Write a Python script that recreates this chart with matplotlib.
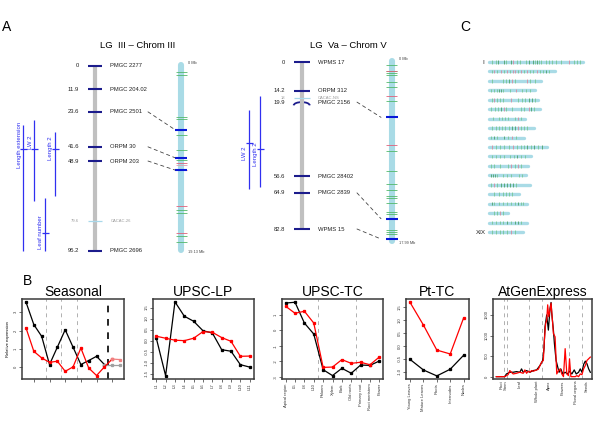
import matplotlib
matplotlib.use("Agg")
import matplotlib.pyplot as plt
from matplotlib.patches import ConnectionPatch, Arc

plt.rcParams["font.family"] = ["Liberation Sans", "DejaVu Sans"]
NARROW = ["Liberation Sans Narrow", "Liberation Sans", "DejaVu Sans"]

W, H = 600, 423

# ---------------- panel A: linkage groups ----------------
lg3_names = ["PMGC 2277", "PMGC 204.02", "PMGC 2501", "ORPM 30", "ORPM 203", "CACAC-26", "PMGC 2696"]
lg3_cm = [0, 11.9, 23.6, 41.6, 48.9, 79.6, 95.2]
lg3_cm_txt = ["0", "11.9", "23.6", "41.6", "48.9", "79.6", "95.2"]
lg3_faint = [False, False, False, False, False, True, False]

lg5_names = ["WPMS 17", "ORPM 312", "CACAC-NS", "PMGC 2156", "PMGC 28402", "PMGC 2839", "WPMS 15"]
lg5_cm = [0, 14.2, 18, 19.9, 56.6, 64.9, 82.8]
lg5_cm_txt = ["0", "14.2", "18", "19.9", "56.6", "64.9", "82.8"]
lg5_faint = [False, False, True, False, False, False, False]

# physical chromosomes (Mb)
chr3_len = 19.13
chr3_green = [0.75, 1.03, 5.35, 5.58, 7.27, 8.79, 9.86, 14.99, 15.27, 17.65, 18.33]
chr3_red = [10.13, 10.86, 14.58, 17.37]
chr3_pink = [10.34]
chr3_blue = [6.69, 9.59, 10.86]

chr5_len = 17.99
chr5_green = [0.40, 0.97, 1.23, 1.43, 2.07, 2.63, 3.97, 8.96, 10.96, 12.32, 12.89,
              13.46, 13.66, 14.16, 15.12, 15.29, 16.92, 17.12, 17.29]
chr5_red = [1.03, 3.53, 8.40]
chr5_blue = [5.63, 15.76, 17.79]

# genetic marker -> physical position
link3_cm = [23.6, 41.6, 48.9]
link3_mb = [6.69, 9.59, 10.86]
link5_cm = [19.9, 64.9, 82.8]
link5_mb = [5.63, 15.76, 17.79]

# QTL intervals (cM)
qtl3_names = ["Length extension", "LW 2", "Length 2", "Leaf number"]
qtl3_lo = [30.4, 27.8, 34.0, 67.9]
qtl3_hi = [95.2, 69.5, 66.9, 95.2]
qtl3_peak = [42.7, 42.7, 42.7, 85.9]
qtl5_names = ["LW 2", "Length 2"]
qtl5_lo = [23.8, 16.9]
qtl5_hi = [63.0, 62.0]
qtl5_peak = [40.2, 43.1]

# ---------------- panel B: expression profiles ----------------
s_black = [3.56, 2.33, 1.69, 0.15, 1.10, 2.05, 1.10, 0.15, 0.37, 0.60, 0.15, 0.15, 0.15]
s_red = [2.15, 0.87, 0.51, 0.27, 0.33, -0.22, 0.02, 1.05, -0.04, -0.45, 0.02, 0.45, 0.42]

lp_labels = ["L1", "L2", "L3", "L4", "L5", "L6", "L7", "L8", "L9", "L10", "L11"]
lp_black = [0.12, -1.59, 1.76, 1.11, 0.88, 0.45, 0.35, -0.41, -0.48, -1.09, -1.20]
lp_red = [0.20, 0.11, 0.02, 0.00, 0.11, 0.41, 0.38, 0.14, -0.03, -0.71, -0.70]

tc_labels = ["Apical region", "L5", "L8", "L10", "Phloem", "Xylem", "Bark", "Old roots",
             "Primary root", "Root meristem", "Flower"]
tc_black = [1.76, 1.81, 0.47, -0.24, -2.54, -2.92, -2.45, -2.77, -2.24, -2.26, -1.98]
tc_red = [1.55, 1.10, 1.23, 0.47, -2.39, -2.37, -1.89, -2.13, -2.06, -2.22, -1.72]

pt_labels = ["Young Leaves", "Mature Leaves", "Roots", "Internodes", "Nodes"]
pt_black = [-0.52, -0.93, -1.16, -0.90, -0.36]
pt_red = [1.69, 0.81, -0.16, -0.31, 1.09]

at_x_red = [0, 5, 6, 7, 8, 9, 10, 12, 14, 16, 17, 18, 19, 20, 21, 22, 24, 25, 26, 27, 28,
            28.6, 29.4, 30, 30.6, 31.2, 32, 32.6, 33.4, 34, 35, 36, 37, 38, 39, 40, 41, 42, 43,
            43.6, 44.4, 45.6, 47, 48, 49, 50, 51, 52, 53, 54, 55, 56]
at_red = [0, 0, 25, 49, 148, 107, 66, 82, 107, 82, 164, 82, 131, 107, 148, 131, 164, 180, 271,
          353, 394, 886, 1296, 1378, 1747, 1460, 1624, 1788, 1378, 1050, 968, 66, 148, 189, 66,
          0, 681, 66, 25, 435, 0, 0, 0, 25, 0, 66, 49, 189, 271, 394, 435, 476]
at_x_black = [0, 5, 6, 8, 10, 12, 14, 15, 16, 18, 20, 22, 24, 26, 27.6, 28.4, 29, 30, 31, 32,
              32.6, 33, 34, 34.6, 35.6, 36.6, 37.4, 38.4, 39.6, 41, 42.4, 43.6, 45, 46.4, 47.6,
              49, 50, 51, 52, 53, 54, 55, 56]
at_black = [0, 0, 66, 107, 107, 123, 107, 189, 107, 148, 107, 148, 164, 271, 394, 681, 1214,
            1501, 1132, 1665, 1804, 1542, 1132, 804, 394, 230, 107, 189, 66, 107, 66, 131, 66,
            164, 66, 107, 189, 107, 296, 378, 312, 189, 107]
at_sep = [4.6, 6.4, 19.4, 27, 43.4, 51]
at_labels = ["Root", "Stem", "Leaf", "Whole plant", "Apex", "Flowers", "Floral organs", "Seeds"]
at_label_x = [3, 5.4, 14, 24, 31.6, 39.6, 47.6, 54]

# ---------------- panel C: genome overview ----------------
c_len = [34.3, 24.1, 19.1, 16.8, 18.0, 18.6, 13.1, 16.4, 12.8, 21.2, 15.3, 14.2, 13.5, 15.0,
         11.0, 13.9, 6.9, 13.9, 12.4]
c_bands = [
    "1.2g 2.7g 3.4G 5.6G 6.3g 8.2G 8.9r 10.2g 11.4g 13.4g 14.6G 16.1G 16.7g 17.5G 18.3g "
    "19.1g 20.9g 21.9g 23.1g 24.6g 26.4g 29.2r 30.9g 32.1g 33.1g",
    "1.0g 2.0r 3.0g 4.2r 5.5g 6.5r 7.5g 8.6r 9.5r 10.5g 11.5r 12.6g 13.8r 15.0g 16.2g 17.4r "
    "18.5g 19.6g 20.8G 22.0g",
    "1.0g 5.2g 6.3g 7.2G 8.5r 9.5g 13.8r 15.0g 16.8g",
    "0.8g 1.8g 2.8g 3.6G 4.4G 5.2g 7.8g 10.0r 12.2g 13.5g 15.0g",
    "1.0g 2.0r 3.0g 4.0g 5.2g 8.0r 10.5g 12.0g 13.3g 14.5G 15.8G 16.7g",
    "0.8g 2.2g 3.2g 4.4G 5.4r 6.2g 8.5g 11.5g 12.6g 14.5r 15.5G 16.6g",
    "1.5g 3.5g 4.7g 5.8g 7.0g 9.5g 10.5r 11.5g",
    "1.0g 2.5g 3.7g 4.8g 6.0g 7.2g 8.4G 9.5G 10.5r 11.5g 12.8g 14.0g",
    "0.8g 1.8G 3.0g 5.5G 7.0g 8.5r 9.8g",
    "1.0r 2.5g 4.0g 5.5g 7.2g 8.8r 10.2g 11.5g 12.8g 14.0G 15.2g 16.5G 18.0g 19.5G",
    "1.0g 2.5g 4.0g 5.5g 7.5g 9.0g 10.2G 11.5g 13.0g",
    "0.8g 1.8g 4.0g 7.0g 8.2r 9.5g 10.5r 11.5g",
    "0.6G 1.4G 2.2G 3.0g 5.2g 6.5g 8.0g 11.0g 12.0g",
    "0.8g 2.0r 3.0g 4.2G 5.3G 6.4G 7.5G 8.6G 9.8g",
    "2.0g 3.5g 5.0g 6.2g 7.4g 8.5g",
    "1.0G 2.0g 3.5g 5.0g 6.5g 8.0g 9.5g 10.5G 11.5g 12.5g",
    "2.0g 3.0g 4.0r 5.0g",
    "1.0g 2.5g 4.0g 5.0g 6.5G 8.0g 9.5G 10.5G 11.5g",
    "1.0g 2.5g 4.0g 5.2g 6.5g 8.0r 9.5g",
]

CHR_BLUE = "#a9dbe6"
GREEN = "#52b86a"
DKGREEN = "#2f8a45"
RED = "#e0607a"
MARK = "#1c1c8c"
QTL = "#3030f0"
BAND_COL = {"g": "#6cc283", "G": "#3a9550", "r": "#e07a90"}

fig = plt.figure(figsize=(W / 100, H / 100), dpi=100)


def px_axes(xmap, ymap):
    # full-figure axes whose data values land on the given pixel positions
    (xv0, xp0), (xv1, xp1) = xmap
    (yv0, yp0), (yv1, yp1) = ymap
    sx = (xp1 - xp0) / (xv1 - xv0)
    sy = (yp1 - yp0) / (yv1 - yv0)
    ax = fig.add_axes([0, 0, 1, 1])
    ax.set_xlim(xv0 - xp0 / sx, xv0 + (W - xp0) / sx)
    ax.set_ylim(yv0 + (H - yp0) / sy, yv0 - yp0 / sy)
    ax.axis("off")
    ax.patch.set_alpha(0)
    return ax


PX = ((0, 0), (600, 600))


def draw_lg(ax, cms, cm_txt, names, faint, bar_x, tick_w, num_x, name_x):
    ax.vlines(bar_x, min(cms), max(cms), color="#c0c0c0", lw=3.0)
    for cm, t, n, f in zip(cms, cm_txt, names, faint):
        if n == "PMGC 2156":
            ax.add_patch(Arc((bar_x, cm + 1.6), 2 * tick_w, 3.2, theta1=180, theta2=360,
                             color=MARK, lw=1.3))
        else:
            ax.hlines(cm, bar_x - tick_w, bar_x + tick_w, color="#a8d8ea" if f else MARK,
                      lw=0.9 if f else 1.5)
        col = "#9a9a9a" if f else "#222222"
        fs = 3.0 if f else 4.2
        ax.text(num_x, cm, t, ha="right", va="center", fontsize=fs, color=col, family=NARROW)
        ax.text(name_x, cm, n, ha="left", va="center", fontsize=fs, color=col, family=NARROW)


def draw_phys(ax, x, length, green, red, blue, pink, top_txt, bot_txt):
    ax.plot([x, x], [0, length], color=CHR_BLUE, lw=4.4, solid_capstyle="round")
    ax.hlines(green, x - 5.5, x + 5.5, color=GREEN, lw=0.6)
    ax.hlines(pink, x - 5.5, x + 5.5, color="#d8a0b4", lw=0.6)
    ax.hlines(red, x - 5.5, x + 5.5, color=RED, lw=0.6)
    ax.hlines(blue, x - 6, x + 6, color="#0818d8", lw=1.5)
    ax.text(x + 7, 0, top_txt, ha="left", va="bottom", fontsize=2.8, color="#444444")
    ax.text(x + 7, length, bot_txt, ha="left", va="top", fontsize=2.8, color="#444444")


def draw_qtl(ax, names, lo, hi, peak, xs, lab_x, lab_y):
    for n, a, b, p, x, lx, ly in zip(names, lo, hi, peak, xs, lab_x, lab_y):
        ax.vlines(x, a, b, color=QTL, lw=0.9)
        ax.hlines(p, x - 3.5, x + 3.5, color=QTL, lw=0.9)
        ax.text(lx, ly, n, rotation=90, ha="center", va="center", fontsize=4.3, color=QTL,
                family=NARROW)


def link(ax_a, ax_b, x_a, x_b, cms, mbs):
    for cm, mb in zip(cms, mbs):
        cp = ConnectionPatch(xyA=(x_a, cm), coordsA="data", axesA=ax_a,
                             xyB=(x_b, mb), coordsB="data", axesB=ax_b,
                             color="#444444", lw=0.6, linestyle=(0, (4, 4)))
        fig.add_artist(cp)


# LG III
ax_lg3 = px_axes(PX, ((0, 66), (95.2, 251)))
draw_lg(ax_lg3, lg3_cm, lg3_cm_txt, lg3_names, lg3_faint, 94.7, 7, 79, 110.5)
draw_qtl(ax_lg3, qtl3_names, qtl3_lo, qtl3_hi, qtl3_peak, [23, 34, 55, 45],
         [19, 30, 50.5, 40.5], [40.7, 39.1, 42.2, 85.4])
ax_c3 = px_axes(PX, ((0, 65), (chr3_len, 250)))
draw_phys(ax_c3, 181, chr3_len, chr3_green, chr3_red, chr3_blue, chr3_pink, "0 Mb", "19.13 Mb")
link(ax_lg3, ax_c3, 148, 175, link3_cm, link3_mb)

# LG Va
ax_lg5 = px_axes(PX, ((0, 62), (82.8, 229)))
draw_lg(ax_lg5, lg5_cm, lg5_cm_txt, lg5_names, lg5_faint, 301.7, 8, 285, 318)
draw_qtl(ax_lg5, qtl5_names, qtl5_lo, qtl5_hi, qtl5_peak, [249, 260], [245, 255.5],
         [45.1, 45.6])
ax_c5 = px_axes(PX, ((0, 61), (chr5_len, 241)))
draw_phys(ax_c5, 391.7, chr5_len, chr5_green, chr5_red, chr5_blue, [], "0 Mb", "17.99 Mb")
link(ax_lg5, ax_c5, 357, 381, link5_cm, link5_mb)

# panel C
ax_c = px_axes(((0, 489), (10, 516.4)), ((1, 62), (19, 232)))
for i, (ln, bands) in enumerate(zip(c_len, c_bands), start=1):
    ax_c.plot([0, ln], [i, i], color=CHR_BLUE, lw=2.4, solid_capstyle="round")
    for b in bands.split():
        ax_c.vlines(float(b[:-1]), i - 0.19, i + 0.19, color=BAND_COL[b[-1]], lw=0.5)
ax_c.text(-2.0, 1, "I", ha="center", va="center", fontsize=4.5, color="#222222")
ax_c.text(-1.2, 19, "XIX", ha="right", va="center", fontsize=4.5, color="#222222")

# labels / titles (figure pixel positions)
ax_txt = px_axes(PX, ((0, 0), (423, 423)))
ax_txt.text(7, 27, "A", fontsize=10, ha="center", va="center")
ax_txt.text(465, 27, "C", fontsize=10, ha="center", va="center")
ax_txt.text(27, 281, "B", fontsize=10, ha="center", va="center")
ax_txt.text(138, 46, "LG  III \u2013 Chrom III", fontsize=6.8, ha="center", va="center")
ax_txt.text(348, 46, "LG  Va \u2013 Chrom V", fontsize=6.8, ha="center", va="center")


# ---------------- panel B ----------------
def b_axes(l, t, r, b, title):
    ax = fig.add_axes([l / W, 1 - b / H, (r - l) / W, (b - t) / H])
    for s in ax.spines.values():
        s.set_linewidth(1.1)
        s.set_color("#3a3a3a")
    ax.tick_params(direction="out", length=2, width=0.5, labelsize=3, pad=1, colors="#333333")
    ax.set_title(title, fontsize=10, pad=2)
    return ax


def profile(ax, x, y, col):
    ax.plot(x, y, color=col, lw=0.9, marker="s", ms=1.4, mec=col, mfc=col)


def vdash(ax, xs, col="#b0b0b0", lw=0.7):
    for v in xs:
        ax.axvline(v, color=col, lw=lw, linestyle=(0, (4, 4)))


# Seasonal
ax = b_axes(22, 299, 124, 379, "Seasonal")
sx = list(range(len(s_black)))
vdash(ax, [2.5, 4.5, 6.5])
vdash(ax, [10.5], col="black", lw=1.2)
profile(ax, sx[:11], s_black[:11], "black")
profile(ax, sx[10:], s_black[10:], "#a0a0a0")
profile(ax, sx[:12], s_red[:12], "red")
profile(ax, sx[11:], s_red[11:], "#f08080")
ax.set_xlim(-0.51, 12.5)
ax.set_ylim(-0.64, 3.73)
ax.set_xticks([1, 3, 5, 7, 9, 11], [])
ax.set_yticks([0, 1, 2, 3], ["0", "1", "2", "3"], rotation=90, va="center")
ax.set_ylabel("Relative expression", fontsize=3, labelpad=3)

# UPSC-LP
ax = b_axes(153, 299, 254, 379, "UPSC-LP")
lx = list(range(len(lp_labels)))
profile(ax, lx, lp_black, "black")
profile(ax, lx, lp_red, "red")
ax.set_xlim(-0.35, 10.46)
ax.set_ylim(-1.74, 1.89)
ax.set_xticks(lx, lp_labels, rotation=90)
yt = [-1.5, -1.0, -0.5, 0.0, 0.5, 1.0, 1.5]
ax.set_yticks(yt, [f"{v:.1f}" for v in yt], rotation=90, va="center")

# UPSC-TC
ax = b_axes(282, 299, 383, 379, "UPSC-TC")
tx = list(range(len(tc_labels)))
vdash(ax, [3.5, 7.5])
profile(ax, tx, tc_black, "black")
profile(ax, tx, tc_red, "red")
ax.set_xlim(-0.39, 10.39)
ax.set_ylim(-3.14, 2.02)
ax.set_xticks(tx, tc_labels, rotation=90)
yt = [-3, -2, -1, 0, 1]
ax.set_yticks(yt, [str(v) for v in yt], rotation=90, va="center")

# Pt-TC
ax = b_axes(406, 299, 469, 379, "Pt-TC")
px_ = list(range(len(pt_labels)))
profile(ax, px_, pt_black, "black")
profile(ax, px_, pt_red, "red")
ax.set_xlim(-0.3, 4.4)
ax.set_ylim(-1.28, 1.82)
ax.set_xticks(px_, pt_labels, rotation=90)
yt = [-1.0, -0.5, 0.0, 0.5, 1.0, 1.5]
ax.set_yticks(yt, [f"{v:.1f}" for v in yt], rotation=90, va="center")

# AtGenExpress
ax = b_axes(493, 299, 592, 379, "AtGenExpress")
vdash(ax, at_sep)
ax.plot(at_x_black, at_black, color="black", lw=0.9)
ax.plot(at_x_red, at_red, color="red", lw=0.9)
ax.set_xlim(-2, 57)
ax.set_ylim(-57, 1889)
ax.set_xticks(at_label_x, at_labels, rotation=90)
ax.tick_params(axis="x", length=0)
yt = [0, 500, 1000, 1500]
ax.set_yticks(yt, [str(v) for v in yt], rotation=90, va="center")

fig.savefig("out.png", dpi=100)
